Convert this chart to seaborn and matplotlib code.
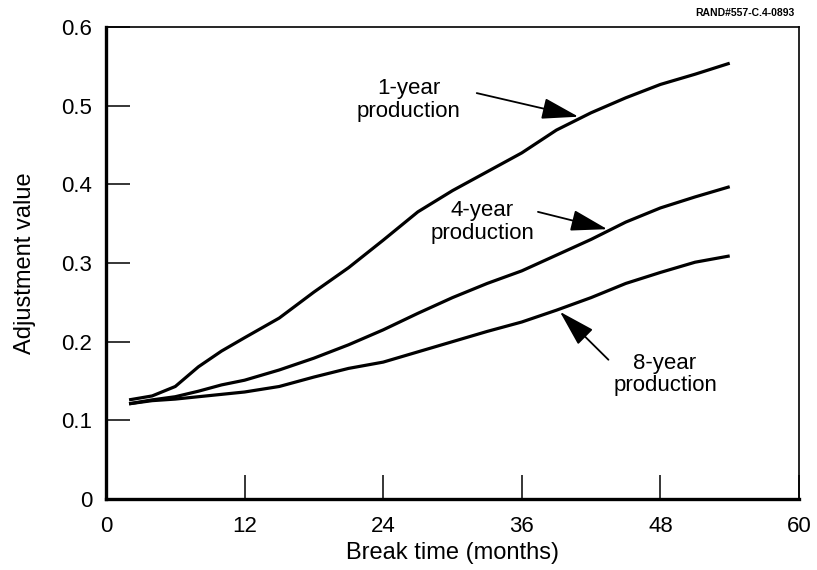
import pandas as pd
import numpy as np
import matplotlib
matplotlib.use('Agg')
import matplotlib.pyplot as plt
import seaborn as sns

months = [2, 4, 6, 8, 10, 12, 15, 18, 21, 24, 27, 30, 33, 36, 39, 42, 45, 48, 51, 54]
one_year = [0.126, 0.131, 0.143, 0.168, 0.188, 0.205, 0.230, 0.263, 0.294, 0.329,
            0.365, 0.392, 0.416, 0.440, 0.469, 0.491, 0.510, 0.527, 0.540, 0.554]
four_year = [0.121, 0.126, 0.130, 0.137, 0.145, 0.151, 0.164, 0.179, 0.196, 0.215,
             0.236, 0.256, 0.274, 0.290, 0.310, 0.330, 0.352, 0.370, 0.384, 0.397]
eight_year = [0.121, 0.125, 0.127, 0.130, 0.133, 0.136, 0.143, 0.155, 0.166, 0.174,
              0.187, 0.200, 0.213, 0.225, 0.240, 0.256, 0.274, 0.288, 0.301, 0.309]

x_ticks = [0, 12, 24, 36, 48, 60]
y_ticks = [0, 0.1, 0.2, 0.3, 0.4, 0.5, 0.6]
y_tick_labels = ['0', '0.1', '0.2', '0.3', '0.4', '0.5', '0.6']

df = pd.DataFrame({
    'month': months * 3,
    'value': one_year + four_year + eight_year,
    'series': ['1-year'] * len(months) + ['4-year'] * len(months) + ['8-year'] * len(months),
})

sns.set_theme(style='ticks')
plt.rcParams['font.family'] = ['Liberation Sans', 'DejaVu Sans']
plt.rcParams['text.color'] = 'black'
plt.rcParams['axes.labelcolor'] = 'black'

fig = plt.figure(figsize=(8.17, 5.70), dpi=100)
ax = fig.add_axes([0.1297, 0.1246, 0.8483, 0.828])

sns.lineplot(data=df, x='month', y='value', hue='series',
             palette=['black', 'black', 'black'], linewidth=2.3,
             legend=False, ax=ax, solid_joinstyle='round', solid_capstyle='butt')

ax.set_xlim(0, 60)
ax.set_ylim(0, 0.6)
ax.set_xticks(x_ticks)
ax.set_xticklabels([str(t) for t in x_ticks])
ax.set_yticks(y_ticks)
ax.set_yticklabels(y_tick_labels)

ax.tick_params(axis='both', direction='in', length=17, width=1.1,
               colors='black', labelsize=16, top=False, right=False)
ax.tick_params(axis='x', pad=12)
ax.tick_params(axis='y', pad=10)

for side in ['left', 'bottom']:
    ax.spines[side].set_linewidth(2.4)
for side in ['top', 'right']:
    ax.spines[side].set_linewidth(1.2)
for side in ax.spines:
    ax.spines[side].set_color('black')

ax.set_xlabel('Break time (months)', fontsize=17, labelpad=4)
ax.set_ylabel('Adjustment value', fontsize=17, labelpad=18)

arrow = dict(arrowstyle='-|>,head_length=1.9,head_width=0.55', color='black',
             lw=1.3, shrinkA=0, shrinkB=0)

ax.text(26.2, 0.507, '1-year\nproduction', fontsize=16, ha='center', va='center',
        linespacing=1.1)
ax.annotate('', xy=(40.9, 0.486), xytext=(32.1, 0.516), arrowprops=arrow)

ax.text(32.6, 0.352, '4-year\nproduction', fontsize=16, ha='center', va='center',
        linespacing=1.1)
ax.annotate('', xy=(43.4, 0.343), xytext=(37.4, 0.365), arrowprops=arrow)

ax.text(48.4, 0.158, '8-year\nproduction', fontsize=16, ha='center', va='center',
        linespacing=1.1)
ax.annotate('', xy=(39.3, 0.238), xytext=(43.5, 0.177), arrowprops=arrow)

fig.text(0.973, 0.977, 'RAND#557-C.4-0893', fontsize=7.5, fontweight='bold',
         ha='right', va='center')

fig.savefig('out.png', dpi=100)
